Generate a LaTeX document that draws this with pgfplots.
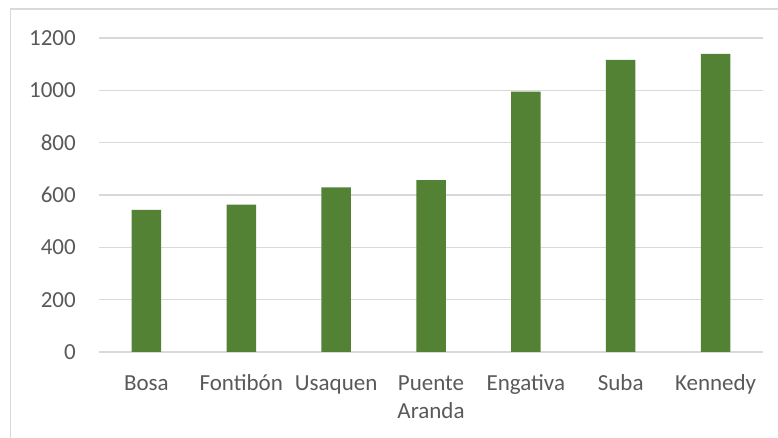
\documentclass[border=0pt]{standalone}
\usepackage{pgfplots}
\pgfplotsset{compat=1.18}
\usepackage{fontspec}
\setmainfont{Carlito}
\definecolor{bargreen}{HTML}{548235}
\definecolor{gridgrey}{HTML}{D9D9D9}
\definecolor{txtgrey}{HTML}{595959}
\newcommand\s{\rule{0pt}{17bp}}
\begin{document}
\begin{tikzpicture}
\begin{axis}[
  at={(99bp,86bp)}, anchor=south west,
  scale only axis,
  width=664bp, height=314bp,
  ymin=0, ymax=1200,
  xmin=-0.5, xmax=6.5,
  ytick={0,200,...,1200},
  xtick=data,
  xticklabels={{\s Bosa},{\s Fontibón},{\s Usaquen},{\s Puente\\Aranda},{\s Engativa},{\s Suba},{\s Kennedy}},
  axis x line*=bottom,
  axis y line*=left,
  y axis line style={draw=none},
  x axis line style={gridgrey, line width=1.3bp, -},
  ymajorgrids,
  grid style={gridgrey, line width=1.3bp},
  major tick length=0pt,
  /pgf/number format/assume math mode=true,
  /pgf/number format/1000 sep={},
  tick label style={font=\fontsize{23bp}{28bp}\selectfont, text=txtgrey, inner sep=0pt},
  yticklabel style={anchor=east, xshift=-23bp},
  xticklabel style={anchor=north, align=center, yshift=-21bp},
  ybar, bar width=29.5bp, bar shift=0pt,
]
\addplot[fill=bargreen, draw=none] coordinates {
  (0,543) (1,563) (2,629) (3,657) (4,995) (5,1116) (6,1139)
};
\end{axis}
\draw[gridgrey, line width=1.3bp] (10.7bp,-5bp) -- (10.7bp,429bp) -- (790bp,429bp);
\pgfresetboundingbox
\useasboundingbox (0,0) rectangle (778bp,438bp);
\end{tikzpicture}
\end{document}
